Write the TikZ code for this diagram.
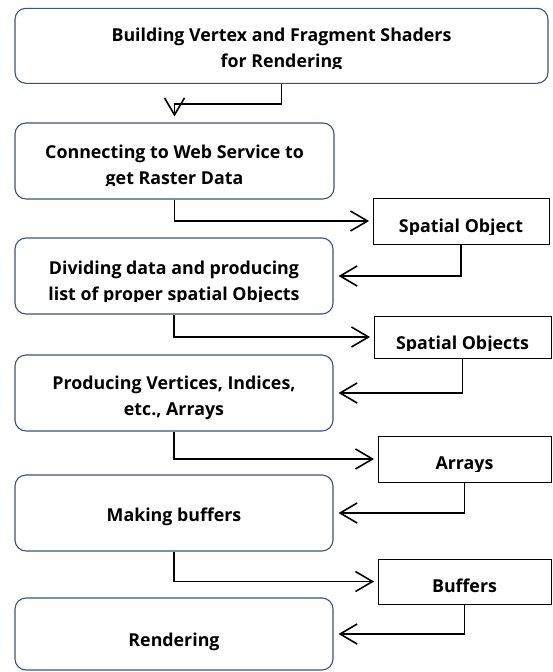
\documentclass[tikz,border=0pt]{standalone}
\usepackage{fontspec}
\setmainfont{Open Sans}
\usetikzlibrary{arrows.meta}
\definecolor{boxline}{HTML}{3D5375}
\tikzset{
  x=1pt, y=-1pt,
  procbox/.style={draw=boxline, line width=1.1pt, rounded corners=11pt, minimum width=#1, inner sep=0pt},
  databox/.style={draw=black, line width=0.9pt, inner sep=0pt, minimum width=176pt},
  lbl/.style={font=\bfseries\fontsize{17.8}{26}\selectfont, align=center, inner sep=0pt},
  conn/.style={draw=black, line width=1.8pt, -{Straight Barb[length=17pt,width=20pt,line width=1.6pt]}},
}
\begin{document}
\begin{tikzpicture}
\useasboundingbox (0,0) rectangle (552,672);
% process boxes
\node[procbox=533pt, minimum height=75pt] (b1) at (281.5,45.8) {};
\node[procbox=319pt, minimum height=76pt] (b2) at (174.5,161) {};
\node[procbox=318pt, minimum height=76pt] (b3) at (174,276) {};
\node[procbox=318pt, minimum height=76pt] (b4) at (174,393) {};
\node[procbox=318pt, minimum height=76pt] (b5) at (174,513) {};
\node[procbox=318pt, minimum height=72pt] (b6) at (174,634) {};
% data boxes
\node[databox, minimum height=46pt] (d1) at (461,221) {};
\node[databox, minimum height=42pt, minimum width=177pt] (d2) at (462.5,337) {};
\node[databox, minimum height=46pt, minimum width=173pt] (d3) at (464.5,459) {};
\node[databox, minimum height=45pt, minimum width=173pt] (d4) at (464.5,581.5) {};
% texts (last lines clipped as in the reference)
\begin{scope}
\clip (0,0) rectangle (552,68.5);
\node[lbl] (t1) at (281.5,50.1) {Building Vertex and Fragment Shaders\\for Rendering};
\end{scope}
\begin{scope}
\clip (0,100) rectangle (552,185.5);
\node[lbl] (t2) at (174.5,166.8) {Connecting to Web Service to\\get Raster Data};
\end{scope}
\begin{scope}
\clip (0,240) rectangle (552,301.5);
\node[lbl] (t3) at (174,282.5) {Dividing data and producing\\list of proper spatial Objects};
\end{scope}
\node[lbl] (t4) at (174,397.8) {Producing Vertices, Indices,\\etc., Arrays};
\node[lbl] (t5) at (174,517.1) {Making buffers};
\node[lbl] (t6) at (174,641.4) {Rendering};
\begin{scope}
\clip (360,200) rectangle (552,234);
\node[lbl] (t7) at (461,228.1) {Spatial Object};
\end{scope}
\begin{scope}
\clip (360,318) rectangle (552,350.3);
\node[lbl] (t8) at (462.5,344.4) {Spatial Objects};
\end{scope}
\begin{scope}
\clip (360,438) rectangle (552,471.5);
\node[lbl] (t9) at (464.5,465.1) {Arrays};
\end{scope}
\node[lbl] (t10) at (464.5,586) {Buffers};
% connectors
\draw[conn, shorten >=6pt] (b1.south) -- ++(0,20) -| (b2.north);
\draw[conn, shorten >=3.5pt] (b2.south) |- (d1.west);
\draw[conn, shorten >=5pt] (d1.south) |- (b3.east);
\draw[conn, shorten >=3.5pt] (b3.south) |- (d2.west);
\draw[conn, shorten >=5pt] (d2.south) |- (b4.east);
\draw[conn, shorten >=3.5pt] (b4.south) |- (d3.west);
\draw[conn, shorten >=5pt] (d3.south) |- (b5.east);
\draw[conn, shorten >=3.5pt] (b5.south) |- (d4.west);
\draw[conn, shorten >=5pt] (d4.south) |- (b6.east);
\end{tikzpicture}
\end{document}
